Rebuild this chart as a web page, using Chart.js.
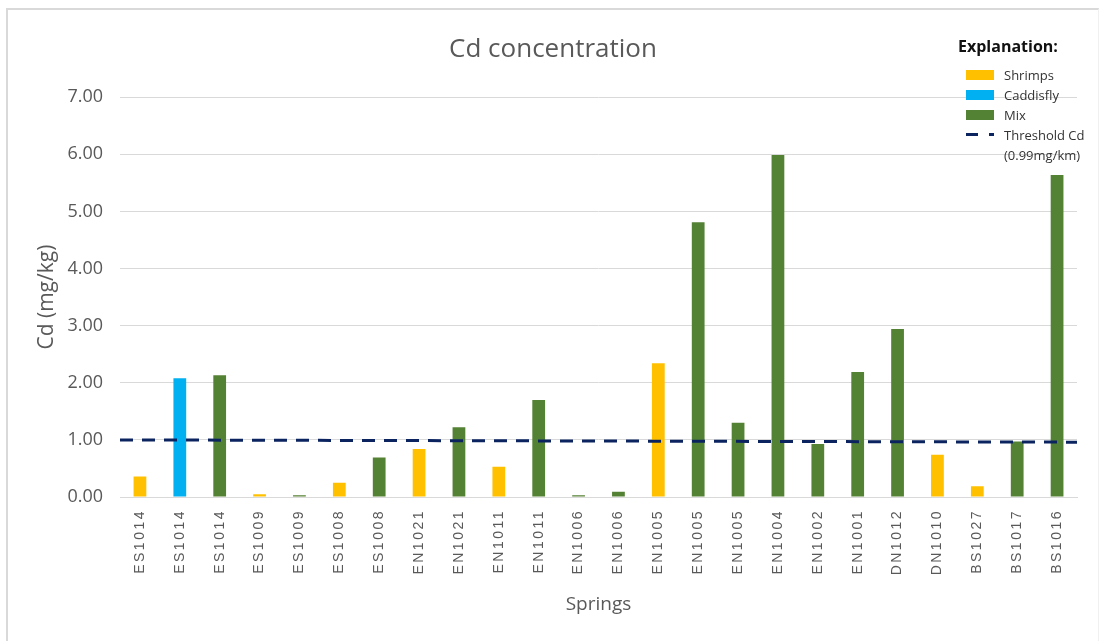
<!DOCTYPE html>
<html>
<head>
<meta charset="utf-8">
<title>Cd concentration</title>
<script src="https://cdn.jsdelivr.net/npm/chart.js@4.4.1/dist/chart.umd.min.js"></script>
<style>
  html, body { margin: 0; padding: 0; background: #fff; }
  body { width: 1099px; height: 641px; overflow: hidden; position: relative; font-family: "Open Sans", sans-serif; }
  #frame {
    position: absolute; left: 6px; top: 8px; width: 1090px; height: 640px;
    border-left: 2px solid #d9d9d9; border-top: 2px solid #d9d9d9; border-right: 1px solid #f0f0f0;
  }
  #chartBox { position: absolute; left: 0; top: 0; width: 1090px; height: 631px; }
  #legend { position: absolute; left: 0; top: 0; color: #333; font-size: 13px; }
  #legend .legTitle { position: absolute; left: 958px; top: 35px; font-size: 16px; font-weight: bold; color: #111; white-space: nowrap; line-height: 22px; }
  #legend .row { position: absolute; left: 1004px; white-space: nowrap; line-height: 20px; }
  #legend .swatch { position: absolute; left: -38px; top: 5px; width: 28px; height: 10px; }
  #legend .dash { position: absolute; top: 8px; height: 3px; }
</style>
</head>
<body>
<div id="frame">
  <div id="chartBox"><canvas id="cdChart"></canvas></div>
</div>
<div id="legend"></div>
<script>
// springs on the x axis, in chart order
const springs = ["ES1014", "ES1014", "ES1014", "ES1009", "ES1009", "ES1008", "ES1008",
  "EN1021", "EN1021", "EN1011", "EN1011", "EN1006", "EN1006", "EN1005", "EN1005", "EN1005",
  "EN1004", "EN1002", "EN1001", "DN1012", "DN1010", "BS1027", "BS1017", "BS1016"];
// sample type for each bar
const sampleType = ["Shrimps", "Caddisfly", "Mix", "Shrimps", "Mix", "Shrimps", "Mix",
  "Shrimps", "Mix", "Shrimps", "Mix", "Mix", "Mix", "Shrimps", "Mix", "Mix",
  "Mix", "Mix", "Mix", "Mix", "Shrimps", "Shrimps", "Mix", "Mix"];
// Cd in mg/kg
const cdValues = [0.36, 2.08, 2.13, 0.05, 0.03, 0.25, 0.69,
  0.84, 1.22, 0.53, 1.70, 0.03, 0.09, 2.34, 4.81, 1.30,
  5.99, 0.93, 2.19, 2.94, 0.74, 0.19, 0.97, 5.64];
// threshold line, left end and right end of the plot
const thresholdX = [0, 1];
const thresholdY = [1.00, 0.96];
const yTicks = [0, 1, 2, 3, 4, 5, 6, 7];

const typeNames = ["Shrimps", "Caddisfly", "Mix"];
const typeColors = { Shrimps: "#ffc000", Caddisfly: "#00b0f0", Mix: "#548235" };
const thresholdColor = "#0b2460";
const greyText = "#595959";

// x labels in the original are drawn letter spaced
const spacedLabels = {
  id: "spacedLabels",
  beforeDraw: function(chart) {
    const xs = chart.scales.x;
    if (xs._spaced) {
      return;
    }
    const drawLabels = xs.drawLabels;
    xs.drawLabels = function(area) {
      chart.ctx.save();
      chart.ctx.letterSpacing = "2.5px";
      drawLabels.call(this, area);
      chart.ctx.restore();
    };
    xs._spaced = true;
  }
};

function buildLegend() {
  var html = '<div class="legTitle">Explanation:</div>';
  var top = 65;
  typeNames.forEach(function(name) {
    html += '<div class="row" style="top:' + top + 'px"><span class="swatch" style="background:' +
      typeColors[name] + '"></span>' + name + '</div>';
    top += 20;
  });
  html += '<div class="row" style="top:' + top + 'px">' +
    '<span class="dash" style="left:-38px;width:12px;background:' + thresholdColor + '"></span>' +
    '<span class="dash" style="left:-15px;width:5px;background:' + thresholdColor + '"></span>' +
    'Threshold Cd<br>(0.99mg/km)</div>';
  document.getElementById("legend").innerHTML = html;
}

const thresholdPoints = thresholdX.map(function(x, i) {
  return { x: x, y: thresholdY[i] };
});

new Chart(document.getElementById("cdChart"), {
  data: {
    labels: springs,
    datasets: [{
      type: "line",
      label: "Threshold Cd (0.99mg/km)",
      data: thresholdPoints,
      xAxisID: "x2",
      borderColor: thresholdColor,
      borderWidth: 3,
      borderDash: [13, 9],
      pointRadius: 0,
      fill: false,
      order: 0
    }, {
      type: "bar",
      label: "Cd",
      data: cdValues,
      xAxisID: "x",
      backgroundColor: sampleType.map(function(t) { return typeColors[t]; }),
      grouped: false,
      categoryPercentage: 1.0,
      barPercentage: 0.32,
      order: 1
    }]
  },
  options: {
    responsive: true,
    maintainAspectRatio: false,
    animation: false,
    layout: { padding: 0 },
    plugins: {
      legend: { display: false },
      tooltip: { enabled: false },
      title: {
        display: true,
        text: "Cd concentration",
        color: greyText,
        font: { family: "Open Sans", size: 26, weight: "normal" },
        padding: { top: 24, bottom: 32 }
      }
    },
    scales: {
      x: {
        type: "category",
        grid: { display: false, drawTicks: false },
        border: { display: true, color: "#d9d9d9", width: 1 },
        ticks: {
          color: greyText,
          font: { family: "Liberation Sans", size: 14 },
          minRotation: 90,
          maxRotation: 90,
          autoSkip: false,
          padding: 12
        },
        title: {
          display: true,
          text: "Springs",
          color: greyText,
          font: { family: "Open Sans", size: 19 },
          padding: { top: 4, bottom: 25 }
        },
        afterFit: function(scale) { scale.height = 144; }
      },
      x2: {
        type: "linear",
        display: false,
        min: 0,
        max: 1,
        offset: false
      },
      y: {
        min: 0,
        max: 7,
        afterBuildTicks: function(scale) {
          scale.ticks = yTicks.map(function(v) { return { value: v }; });
        },
        grid: { color: "#d9d9d9", drawTicks: false },
        border: { display: false },
        ticks: {
          color: greyText,
          font: { family: "Open Sans", size: 18 },
          padding: 17,
          callback: function(v) { return Number(v).toFixed(2); }
        },
        title: {
          display: true,
          text: "Cd (mg/kg)",
          color: greyText,
          font: { family: "Open Sans", size: 21 },
          padding: { top: 26, bottom: 0 }
        },
        afterFit: function(scale) { scale.width = 112; }
      },
      // empty right axis only keeps a margin, so the title stays centred on the whole frame
      yRight: {
        position: "right",
        display: true,
        grid: { display: false, drawTicks: false },
        border: { display: false },
        ticks: { display: false },
        afterFit: function(scale) { scale.width = 21; }
      }
    }
  },
  plugins: [spacedLabels]
});

buildLegend();
</script>
</body>
</html>
